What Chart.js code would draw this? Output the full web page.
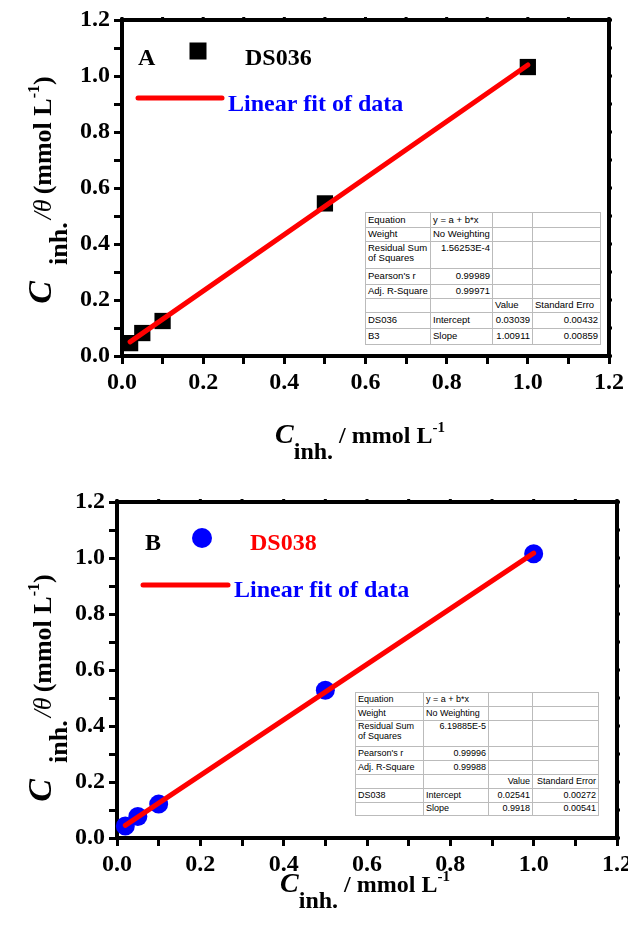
<!DOCTYPE html>
<html><head><meta charset="utf-8">
<script src="https://cdn.jsdelivr.net/npm/chart.js@4/dist/chart.umd.min.js"></script>
<style>
html,body{margin:0;padding:0;background:#fff;width:628px;height:929px;overflow:hidden;position:relative;}
.box{position:absolute;left:0;width:650px;}
.xt,.yt{position:absolute;font:bold 24px "Liberation Serif",serif;color:#000;white-space:nowrap;text-align:center;line-height:1;}
.xt .C{font-style:italic;font-size:28px;}
.sub{vertical-align:-0.65em;font-size:24px;}
.sup{font-size:15px;vertical-align:0.75em;}
.yt{transform:rotate(-90deg);transform-origin:50% 50%;font-size:26px;}
.yt .C{font-style:italic;font-size:34px;margin-right:16px;}
.yt .sub{font-size:26px;vertical-align:-0.6em;}
.yt .sup{font-size:16px;}
.th{font-style:italic;font-weight:normal;margin:0 5px 0 3px;}
table.st{position:absolute;border-collapse:collapse;table-layout:fixed;font-family:"Liberation Sans",Arial,sans-serif;color:#000;border:1.5px solid #111;background:#fff;}
table.st td{border:1px solid #bbb;padding:0 2px;white-space:nowrap;overflow:hidden;line-height:1.1;vertical-align:middle;}
table.st td.r{text-align:right;}
table.st tr.tall td{vertical-align:top;padding-top:1px;}
</style></head>
<body>
<div class="box" style="top:0;height:465px;"><canvas id="cA" width="650" height="465"></canvas></div>
<div class="box" style="top:465px;height:464px;"><canvas id="cB" width="650" height="464"></canvas></div>

<div class="yt" style="left:-112px;top:175px;width:300px;height:30px;"><span class="C">C</span><span class="sub">inh.</span><span class="th">/θ</span>(mmol L<span class="sup">-1</span>)</div>
<div class="xt" style="left:230px;top:420px;width:260px;"><span class="C">C</span><span class="sub">inh.</span> / mmol L<span class="sup">-1</span></div>

<div class="yt" style="left:-112px;top:673px;width:300px;height:30px;"><span class="C">C</span><span class="sub">inh.</span><span class="th">/θ</span>(mmol L<span class="sup">-1</span>)</div>
<div class="xt" style="left:235px;top:869px;width:260px;"><span class="C">C</span><span class="sub">inh.</span> / mmol L<span class="sup">-1</span></div>

<table class="st" style="left:365px;top:212px;width:235px;font-size:9.5px;">
<colgroup><col style="width:65px"><col style="width:62px"><col style="width:40px"><col style="width:68px"></colgroup>
<tr style="height:15px"><td>Equation</td><td>y = a + b*x</td><td></td><td></td></tr>
<tr style="height:14px"><td>Weight</td><td>No Weighting</td><td></td><td></td></tr>
<tr class="tall" style="height:27px"><td>Residual Sum<br>of Squares</td><td class="r">1.56253E-4</td><td></td><td></td></tr>
<tr style="height:16px"><td>Pearson's r</td><td class="r">0.99989</td><td></td><td></td></tr>
<tr style="height:14px"><td>Adj. R-Square</td><td class="r">0.99971</td><td></td><td></td></tr>
<tr style="height:14px"><td></td><td></td><td>Value</td><td>Standard Erro</td></tr>
<tr style="height:16px"><td>DS036</td><td>Intercept</td><td class="r">0.03039</td><td class="r">0.00432</td></tr>
<tr style="height:16px"><td>B3</td><td>Slope</td><td class="r">1.00911</td><td class="r">0.00859</td></tr>
</table>

<table class="st" style="left:355px;top:692px;width:243px;font-size:9px;">
<colgroup><col style="width:68px"><col style="width:65px"><col style="width:44px"><col style="width:66px"></colgroup>
<tr style="height:14px"><td>Equation</td><td>y = a + b*x</td><td></td><td></td></tr>
<tr style="height:14px"><td>Weight</td><td>No Weighting</td><td></td><td></td></tr>
<tr class="tall" style="height:26px"><td>Residual Sum<br>of Squares</td><td class="r">6.19885E-5</td><td></td><td></td></tr>
<tr style="height:14px"><td>Pearson's r</td><td class="r">0.99996</td><td></td><td></td></tr>
<tr style="height:14px"><td>Adj. R-Square</td><td class="r">0.99988</td><td></td><td></td></tr>
<tr style="height:14px"><td></td><td></td><td class="r">Value</td><td class="r">Standard Error</td></tr>
<tr style="height:14px"><td>DS038</td><td>Intercept</td><td class="r">0.02541</td><td class="r">0.00272</td></tr>
<tr style="height:13px"><td></td><td>Slope</td><td class="r">0.9918</td><td class="r">0.00541</td></tr>
</table>

<script>
// ---- data ----
const concA = [0.02, 0.05, 0.1, 0.5, 1.0];
const ratioA = [0.046, 0.082, 0.125, 0.545, 1.032];
const fitXA = [0.02, 1.0];
const fitYA = [0.0506, 1.0395];

const concB = [0.02, 0.05, 0.1, 0.5, 1.0];
const ratioB = [0.043, 0.077, 0.121, 0.528, 1.015];
const fitXB = [0.02, 1.0];
const fitYB = [0.0452, 1.0172];

const tickLabels = ['0.0','0.2','0.4','0.6','0.8','1.0','1.2'];
const axisMin = 0, axisMax = 1.2, minorStep = 0.1;

const FONT = 'Liberation Serif';

function pts(xs, ys){ return xs.map((x,i)=>({x:x, y:ys[i]})); }
function labelFor(v){
  const s = (Math.round(v*10)/10).toFixed(1);
  return tickLabels.includes(s) && Math.round(v*10)%2===0 ? s : '';
}

function framePlugin(){
  return {
    id:'frame',
    beforeDatasetsDraw(chart){
      const a = chart.chartArea, ctx = chart.ctx;
      ctx.save();
      ctx.strokeStyle = '#000'; ctx.lineWidth = 4;
      ctx.strokeRect(a.left, a.top, a.right-a.left, a.bottom-a.top);
      ctx.lineWidth = 3;
      const xs = chart.scales.x, ys = chart.scales.y;
      for (let i=0;i<=12;i++){
        const v = i*minorStep;
        const px = xs.getPixelForValue(v);
        ctx.beginPath(); ctx.moveTo(px, a.top); ctx.lineTo(px, a.top-3); ctx.stroke();
        const py = ys.getPixelForValue(v);
        ctx.beginPath(); ctx.moveTo(a.right, py); ctx.lineTo(a.right+3, py); ctx.stroke();
      }
      ctx.restore();
    }
  };
}

function legendPlugin(cfg){
  return {
    id:'customLegend',
    afterDraw(chart){
      const ctx = chart.ctx;
      ctx.save();
      ctx.textBaseline = 'alphabetic'; ctx.textAlign = 'left';
      ctx.font = 'bold 24px ' + FONT;
      ctx.fillStyle = '#000';
      ctx.fillText(cfg.letter, cfg.letterX, cfg.row1);
      ctx.fillStyle = cfg.markerColor;
      if (cfg.marker === 'rect') {
        ctx.fillRect(cfg.markerX - 8.5, cfg.markerY - 8.5, 17, 17);
      } else {
        ctx.beginPath(); ctx.arc(cfg.markerX, cfg.markerY, 10, 0, Math.PI*2); ctx.fill();
      }
      ctx.fillStyle = cfg.nameColor;
      ctx.fillText(cfg.name, cfg.nameX, cfg.row1);
      ctx.strokeStyle = '#ff0000'; ctx.lineWidth = 5; ctx.lineCap = 'round';
      ctx.beginPath(); ctx.moveTo(cfg.lineX1, cfg.lineY); ctx.lineTo(cfg.lineX2, cfg.lineY); ctx.stroke();
      ctx.fillStyle = '#0000ff';
      ctx.fillText('Linear fit of data', cfg.fitTextX, cfg.row2);
      ctx.restore();
    }
  };
}

function makeChart(id, opts){
  const ctx = document.getElementById(id);
  const tickFont = { family: FONT, size: 24, weight: 'bold' };
  return new Chart(ctx, {
    type: 'scatter',
    data: {
      datasets: [
        { label: 'Linear fit of data', type: 'line', data: pts(opts.fitX, opts.fitY),
          borderColor: '#ff0000', borderWidth: 5, borderCapStyle: 'round',
          pointRadius: 0, fill: false, showLine: true, clip: false },
        { label: opts.name, data: pts(opts.xs, opts.ys),
          pointStyle: opts.marker, pointRadius: opts.radius,
          backgroundColor: opts.markerColor, borderColor: opts.markerColor, borderWidth: 0,
          clip: false }
      ]
    },
    options: {
      responsive: false, animation: false,
      layout: { padding: { top: opts.padTop, right: opts.padRight, left: 0, bottom: 0 } },
      plugins: { legend: { display: false }, tooltip: { enabled: false } },
      scales: {
        x: {
          type: 'linear', min: axisMin, max: axisMax,
          afterFit(s){ s.height = opts.xHeight; },
          ticks: { stepSize: minorStep, autoSkip: false, maxRotation: 0, padding: 4,
                   color: '#000', font: tickFont, callback: (v)=>labelFor(v) },
          grid: { drawOnChartArea: false, drawTicks: true, tickLength: 8, tickWidth: 3, tickColor: '#000' },
          border: { display: true, color: '#000', width: 4 }
        },
        y: {
          type: 'linear', min: axisMin, max: axisMax,
          afterFit(s){ s.width = opts.yWidth; },
          ticks: { stepSize: minorStep, autoSkip: false, padding: 4,
                   color: '#000', font: tickFont, callback: (v)=>labelFor(v) },
          grid: { drawOnChartArea: false, drawTicks: true, tickLength: 8, tickWidth: 3, tickColor: '#000' },
          border: { display: true, color: '#000', width: 4 }
        }
      }
    },
    plugins: [framePlugin(), legendPlugin(opts.legend)]
  });
}

makeChart('cA', {
  xs: concA, ys: ratioA, fitX: fitXA, fitY: fitYA, name: 'DS036',
  marker: 'rect', radius: 11.5, markerColor: '#000',
  padTop: 20, padRight: 41, xHeight: 109, yWidth: 122,
  legend: { letter: 'A', letterX: 138, row1: 65, marker: 'rect', markerX: 198, markerY: 51, markerColor: '#000',
            name: 'DS036', nameX: 245, nameColor: '#000',
            lineX1: 138, lineX2: 222, lineY: 98, fitTextX: 228, row2: 111 }
});

makeChart('cB', {
  xs: concB, ys: ratioB, fitX: fitXB, fitY: fitYB, name: 'DS038',
  marker: 'circle', radius: 9.5, markerColor: '#0000ff',
  padTop: 37, padRight: 33, xHeight: 91, yWidth: 117,
  legend: { letter: 'B', letterX: 145, row1: 85, marker: 'circle', markerX: 202, markerY: 73, markerColor: '#0000ff',
            name: 'DS038', nameX: 250, nameColor: '#ff0000',
            lineX1: 143, lineX2: 228, lineY: 120, fitTextX: 234, row2: 132 }
});
</script>
</body></html>
